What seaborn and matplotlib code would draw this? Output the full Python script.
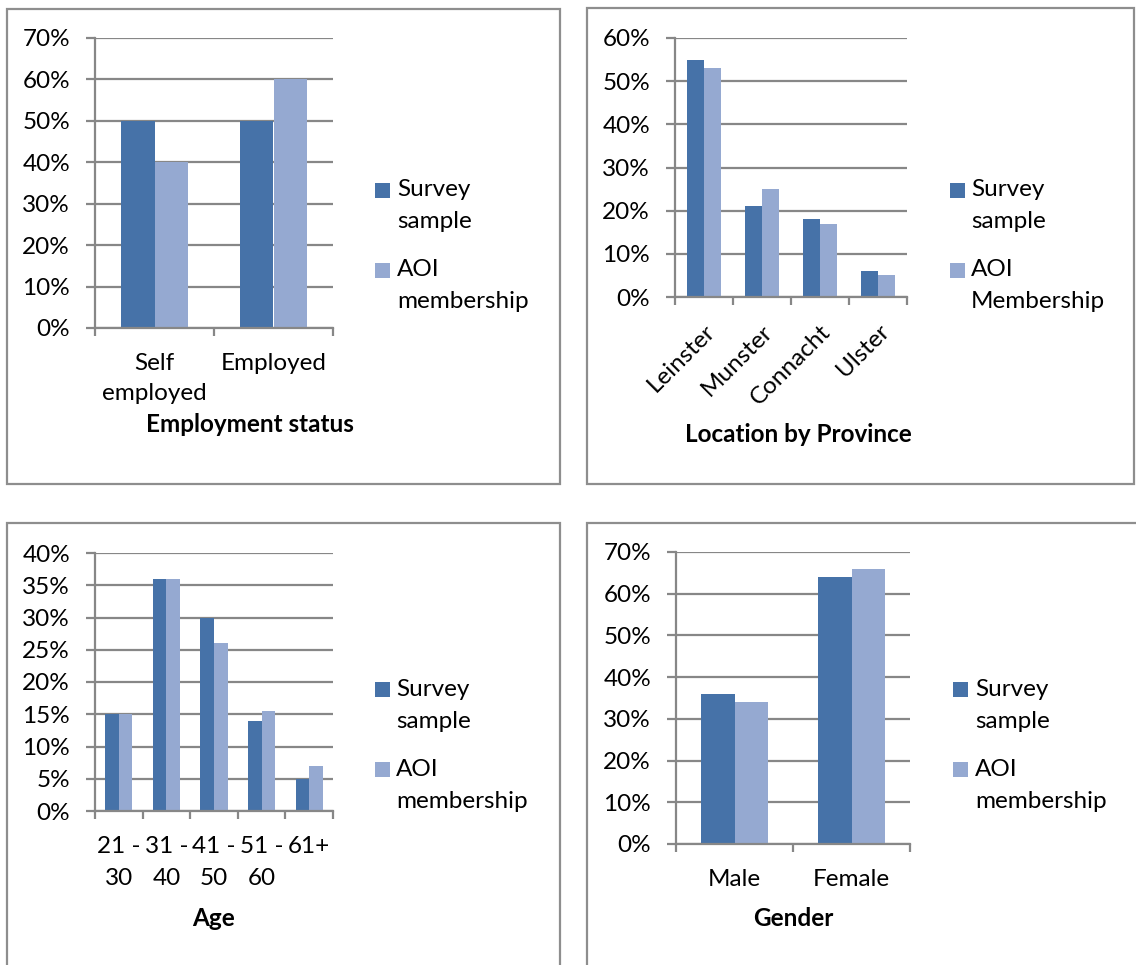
import numpy as np
import pandas as pd
import matplotlib
matplotlib.use("Agg")
import matplotlib.pyplot as plt
from matplotlib.patches import Rectangle
from matplotlib.ticker import PercentFormatter
import seaborn as sns

# ---- data (percent of respondents) ----
legend_survey = "Survey\nsample"
legend_aoi = "AOI\nmembership"
legend_aoi_cap = "AOI\nMembership"

employment_cats = ["Self\nemployed", "Employed"]
employment_survey = [50, 50]
employment_aoi = [40, 60]

province_cats = ["Leinster", "Munster", "Connacht", "Ulster"]
province_survey = [55, 21, 18, 6]
province_aoi = [53, 25, 17, 5]

age_cats = ["21 -\n30", "31 -\n40", "41 -\n50", "51 -\n60", "61+"]
age_survey = [15, 36, 30, 14, 5]
age_aoi = [15, 36, 26, 15.5, 7]

gender_cats = ["Male", "Female"]
gender_survey = [36, 64]
gender_aoi = [34, 66]

# ---- styling ----
DARK = "#4672A8"
LIGHT = "#95A9D1"
GRID = "#878787"
FRAME = "#8E8E8E"
W, H = 1136, 965
FS = 17.5
PX = 72 / 100  # points per pixel at dpi 100

sns.set_theme(style="white")
plt.rcParams["font.family"] = ["Lato", "DejaVu Sans"]

fig = plt.figure(figsize=(W / 100, H / 100), dpi=100)


def fig_box(x0, y0, x1, y1):
    return [x0 / W, 1 - y1 / H, (x1 - x0) / W, (y1 - y0) / H]


def frame(x0, y0, x1, y1):
    b = fig_box(x0, y0, x1, y1)
    fig.add_artist(Rectangle((b[0], b[1]), b[2], b[3], transform=fig.transFigure,
                             fill=False, ec=FRAME, lw=1.6, zorder=0))


def legend(sq_x, sq_y1, sq_y2, text_x, lines1, lines2, labels):
    for sq_y, ys, lab, col in ((sq_y1, lines1, labels[0], DARK),
                               (sq_y2, lines2, labels[1], LIGHT)):
        b = fig_box(sq_x, sq_y, sq_x + 15, sq_y + 15)
        fig.add_artist(Rectangle((b[0], b[1]), b[2], b[3], transform=fig.transFigure,
                                 fc=col, ec="none"))
        for y, part in zip(ys, lab.split("\n")):
            fig.text(text_x / W, 1 - y / H, part, ha="left", va="center",
                     fontsize=FS, color="black")


def panel(cats, survey, aoi, labels, box, ymax, step, title, title_xy,
          rotate=False, xpad=19, linespacing=1.5):
    ax = fig.add_axes(fig_box(*box))
    df = pd.DataFrame({
        "category": cats * 2,
        "share": survey + aoi,
        "series": [labels[0]] * len(cats) + [labels[1]] * len(cats),
    })
    sns.barplot(data=df, x="category", y="share", hue="series",
                palette=[DARK, LIGHT], width=0.57, saturation=1,
                linewidth=0, legend=False, ax=ax)
    n = len(cats)
    ax.set_xlim(-0.5, n - 0.5)
    ax.set_ylim(0, ymax)
    ax.set_yticks(np.arange(0, ymax + step / 2, step))
    ax.yaxis.set_major_formatter(PercentFormatter(100, decimals=0))
    ax.yaxis.grid(True, color=GRID, lw=1.6)
    ax.set_axisbelow(True)
    for s in ("top", "right"):
        ax.spines[s].set_visible(False)
    for s in ("left", "bottom"):
        ax.spines[s].set_color(GRID)
        ax.spines[s].set_linewidth(1.6)
    ax.tick_params(axis="y", length=9 * PX, width=1.6, color=GRID,
                   pad=16 * PX, labelsize=FS, labelcolor="black", left=True)
    ax.set_xticks(np.arange(-0.5, n, 1.0), minor=True)
    ax.tick_params(axis="x", which="minor", length=8 * PX, width=1.6,
                   color=GRID, bottom=True, direction="out")
    ax.tick_params(axis="x", which="major", length=0, pad=xpad,
                   labelsize=FS, labelcolor="black")
    if rotate:
        ax.set_xticks(range(n))
        ax.set_xticklabels(cats, rotation=45, ha="right", va="top",
                           rotation_mode="anchor")
    else:
        for t in ax.get_xticklabels():
            t.set_linespacing(linespacing)
    ax.set_xlabel("")
    ax.set_ylabel("")
    fig.text(title_xy[0] / W, 1 - title_xy[1] / H, title, ha="center",
             va="center", fontsize=FS, fontweight="bold", color="black")
    return ax


# frames around each chart
frame(7, 9, 560, 484)
frame(587, 8, 1134, 484)
frame(7, 523, 560, 990)
frame(587, 523, 1160, 990)

# Employment status
panel(employment_cats, employment_survey, employment_aoi,
      [legend_survey, legend_aoi], (95, 38, 333, 328), 70, 10,
      "Employment status", (250, 425), xpad=18)
legend(375, 183, 263, 397, (190, 222), (270, 302), [legend_survey, legend_aoi])

# Location by province
panel(province_cats, province_survey, province_aoi,
      [legend_survey, legend_aoi_cap], (675, 38, 907, 297), 60, 10,
      "Location by Province", (798, 435), rotate=True, xpad=17)
legend(950, 183, 263, 971, (190, 222), (270, 302), [legend_survey, legend_aoi_cap])

# Age
panel(age_cats, age_survey, age_aoi,
      [legend_survey, legend_aoi], (95, 553, 333, 811), 40, 5,
      "Age", (214, 918), xpad=18, linespacing=1.65)
legend(375, 682, 762, 396, (690, 721), (769, 802), [legend_survey, legend_aoi])

# Gender
panel(gender_cats, gender_survey, gender_aoi,
      [legend_survey, legend_aoi], (676, 552, 910, 844), 70, 10,
      "Gender", (793, 919), xpad=18)
legend(953, 682, 762, 975, (690, 721), (769, 802), [legend_survey, legend_aoi])

fig.savefig("out.png", dpi=100, facecolor="white")
